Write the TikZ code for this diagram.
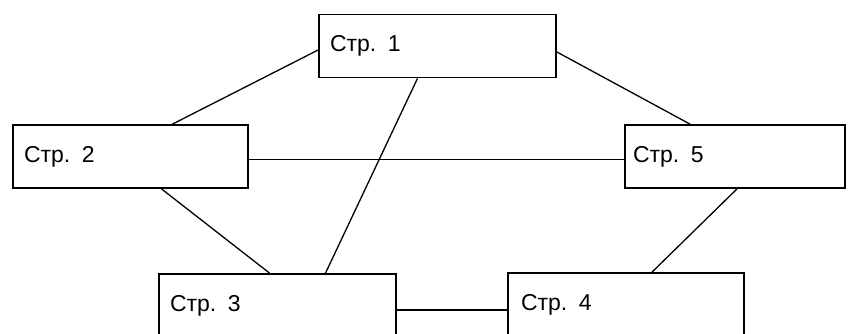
\documentclass[tikz,border=0pt]{standalone}
\usepackage{fontspec}
\setmainfont{Liberation Sans}
\usepackage{tikz}

\begin{document}
\begin{tikzpicture}[x=1pt,y=-1pt,
    page/.style={draw,line width=1.8pt,fill=white,minimum height=63pt,
      inner xsep=11pt,align=left,font=\fontsize{23}{27}\selectfont}]
    \useasboundingbox (0,0) rectangle (848,334);
    \clip (0,0) rectangle (848,334);
%    \fill[white] (0,0) rectangle (848,334);
    \node[page,text width=215pt] (p1) at (437.5,46) {Стр. 1};
    \node[page,text width=213pt] (p2) at (130.5,156.5) {Стр. 2};
    \node[page,text width=204pt,inner xsep=8pt] (p5) at (735,156.5) {Стр. 5};
    \node[page,text width=215pt] (p3) at (277.5,305.5) {Стр. 3};
    \node[page,text width=210pt,inner xsep=13pt] (p4) at (626,304.5) {Стр. 4};
    \draw[-,line width=1.3pt] ([yshift=-4pt]p1.west)--([xshift=42pt]p2.north);
    \draw[-,line width=1.3pt] ([yshift=-6pt]p1.east)--([xshift=-45pt]p5.north);
    \draw[-,line width=1.3pt] ([xshift=-20pt]p1.south)--([xshift=48pt]p3.north);
    \draw[-,line width=1.3pt] ([yshift=-3pt]p2.east)--([yshift=-3pt]p5.west);
    \draw[-,line width=1.3pt] ([xshift=31pt]p2.south)--([xshift=-8pt]p3.north);
    \draw[-,line width=1.3pt] ([xshift=2pt]p5.south)--([xshift=26pt]p4.north);
    \draw[-,line width=1.3pt] ([yshift=-4.5pt]p3.east)--([yshift=-5.5pt]p4.west);
  \end{tikzpicture}
\end{document}
